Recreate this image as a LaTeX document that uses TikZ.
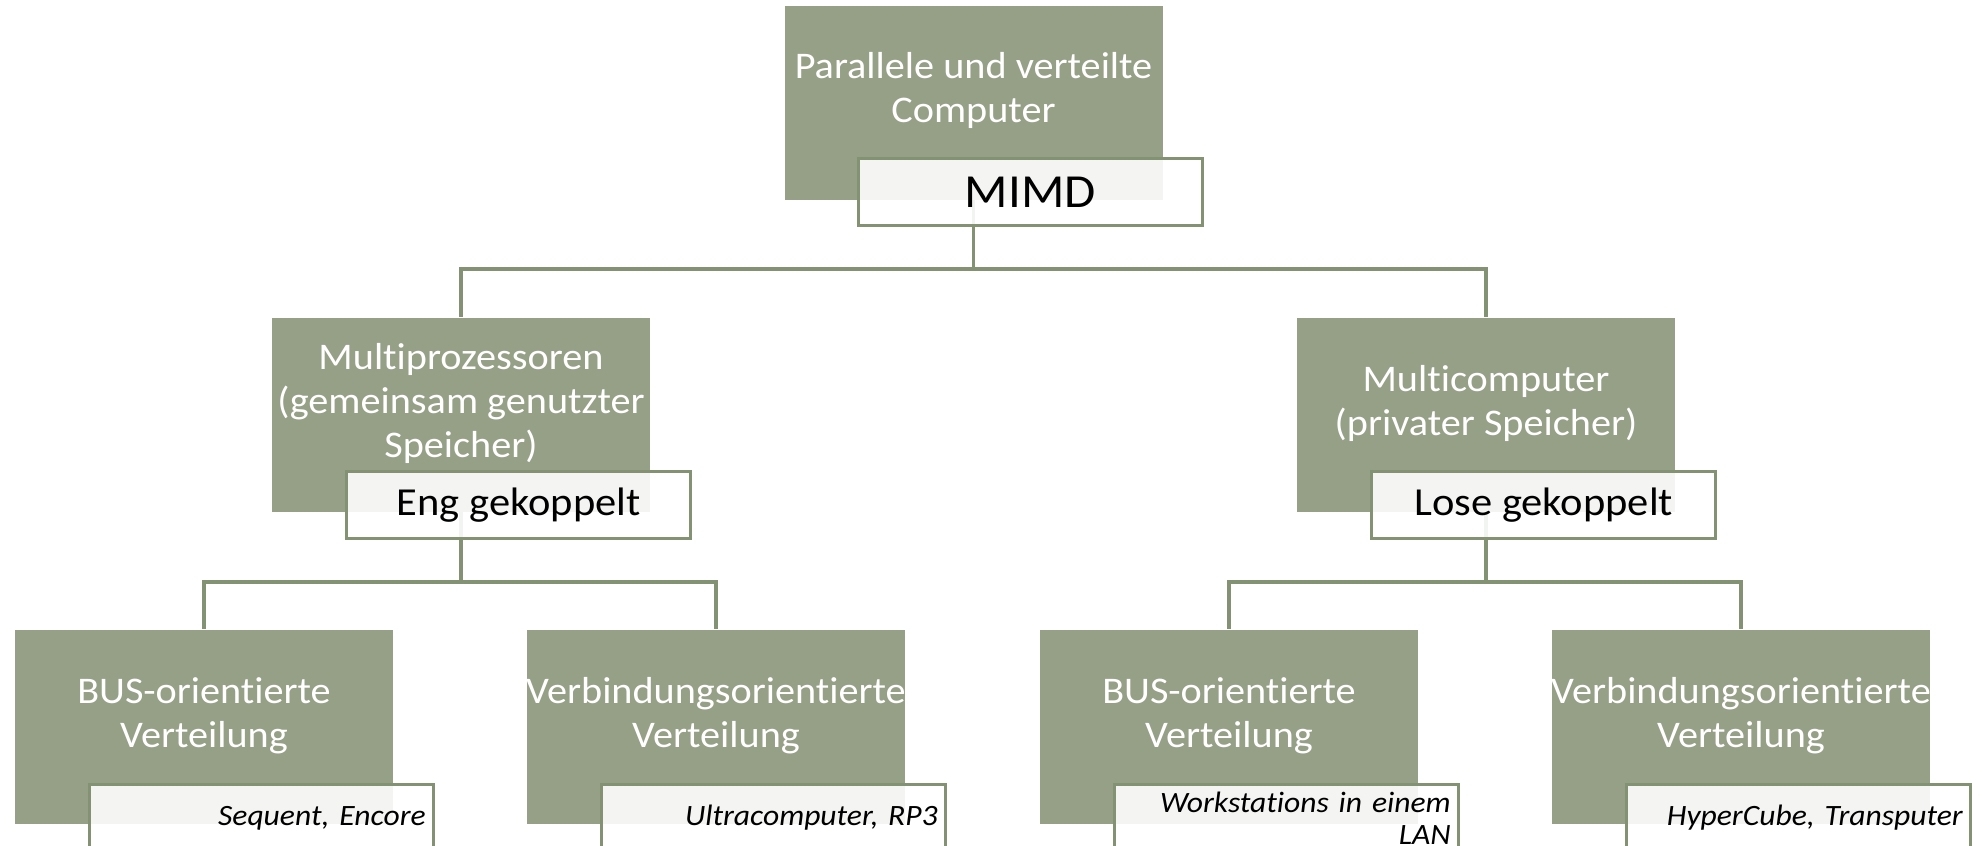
\documentclass[tikz,border=0pt]{standalone}
\usepackage{fontspec}
\setmainfont[FakeStretch=1.07,Ligatures=NoCommon]{Carlito}
\usetikzlibrary{positioning}
\definecolor{boxgreen}{RGB}{149,160,135}
\definecolor{linegreen}{RGB}{132,146,116}
\frenchspacing

\begin{document}
\begin{tikzpicture}[x=0.1mm,y=-0.1mm,
  greenbox/.style={fill=boxgreen,minimum width=37.8mm,minimum height=19.4mm,inner sep=0pt},
  boxtext/.style={text=white,align=center,inner sep=0pt,font=\fontsize{10.7}{12.4}\selectfont},
  tagbox/.style={draw=linegreen,line width=0.8pt,fill=white,fill opacity=0.9,text opacity=1,
    minimum width=34.4mm,minimum height=6.7mm,inner sep=0pt,anchor=north west},
  bigtag/.style={font=\fontsize{13.5}{15}\selectfont},
  midtag/.style={font=\fontsize{11.3}{13}\selectfont},
  smalltag/.style={font=\fontsize{8.4}{9}\selectfont\itshape,text width=32.8mm,align=right},
  link/.style={draw=linegreen,line width=0.9pt}]
\useasboundingbox (0,0) rectangle (1982,845);
\coordinate (bus0) at (0,269);
\coordinate (bus1) at (0,582);

% green boxes
\node[greenbox] (pvc) at (973.5,102.5) {};
\node[greenbox] (mp) at (461,414.5) {};
\node[greenbox] (mc) at (1486,414.5) {};
\node[greenbox] (mpbus) at (204,726.5) {};
\node[greenbox] (mpnet) at (716,726.5) {};
\node[greenbox] (mcbus) at (1229,726.5) {};
\node[greenbox] (mcnet) at (1741,726.5) {};

\node[boxtext] (pvct) at ([yshift=1.2mm]pvc.center) {Parallele und verteilte\\Computer};
\node[boxtext] (mpt) at ([yshift=1.1mm]mp.center) {Multiprozessoren\\(gemeinsam genutzter\\Speicher)};
\node[boxtext] (mct) at ([yshift=1.1mm]mc.center) {Multicomputer\\(privater Speicher)};
\node[boxtext] (mpbust) at ([yshift=1.1mm]mpbus.center) {BUS-orientierte\\Verteilung};
\node[boxtext] (mpnett) at ([yshift=1.1mm]mpnet.center) {Verbindungsorientierte\\Verteilung};
\node[boxtext] (mcbust) at ([yshift=1.1mm]mcbus.center) {BUS-orientierte\\Verteilung};
\node[boxtext] (mcnett) at ([yshift=1.1mm]mcnet.center) {Verbindungsorientierte\\Verteilung};

% connectors
\draw[link] (pvc.south) -- (pvc.south |- bus0) -| (mp.north);
\draw[link] (pvc.south |- bus0) -| (mc.north);
\draw[link] (mp.south) -- (mp.south |- bus1) -| (mpbus.north);
\draw[link] (mp.south |- bus1) -| (mpnet.north);
\draw[link] (mc.south) -- (mc.south |- bus1) -| (mcbus.north);
\draw[link] (mc.south |- bus1) -| (mcnet.north);

% labels
\node[tagbox,bigtag] (mimd) at ([xshift=7.3mm,yshift=4.3mm]pvc.south west) {MIMD};
\node[tagbox,midtag] (eng) at ([xshift=7.4mm,yshift=4.2mm]mp.south west) {Eng gekoppelt};
\node[tagbox,midtag] (lose) at ([xshift=7.4mm,yshift=4.2mm]mc.south west) {Lose gekoppelt};
\node[tagbox,smalltag] (seq) at ([xshift=7.4mm,yshift=4.1mm]mpbus.south west) {Sequent, Encore};
\node[tagbox,smalltag] (ultra) at ([xshift=7.4mm,yshift=4.1mm]mpnet.south west) {Ultracomputer, RP3};
\node[tagbox,smalltag] (lan) at ([xshift=7.4mm,yshift=4.1mm]mcbus.south west) {Workstations in einem\\LAN};
\node[tagbox,smalltag] (hyper) at ([xshift=7.4mm,yshift=4.1mm]mcnet.south west) {HyperCube, Transputer};
\end{tikzpicture}
\end{document}
